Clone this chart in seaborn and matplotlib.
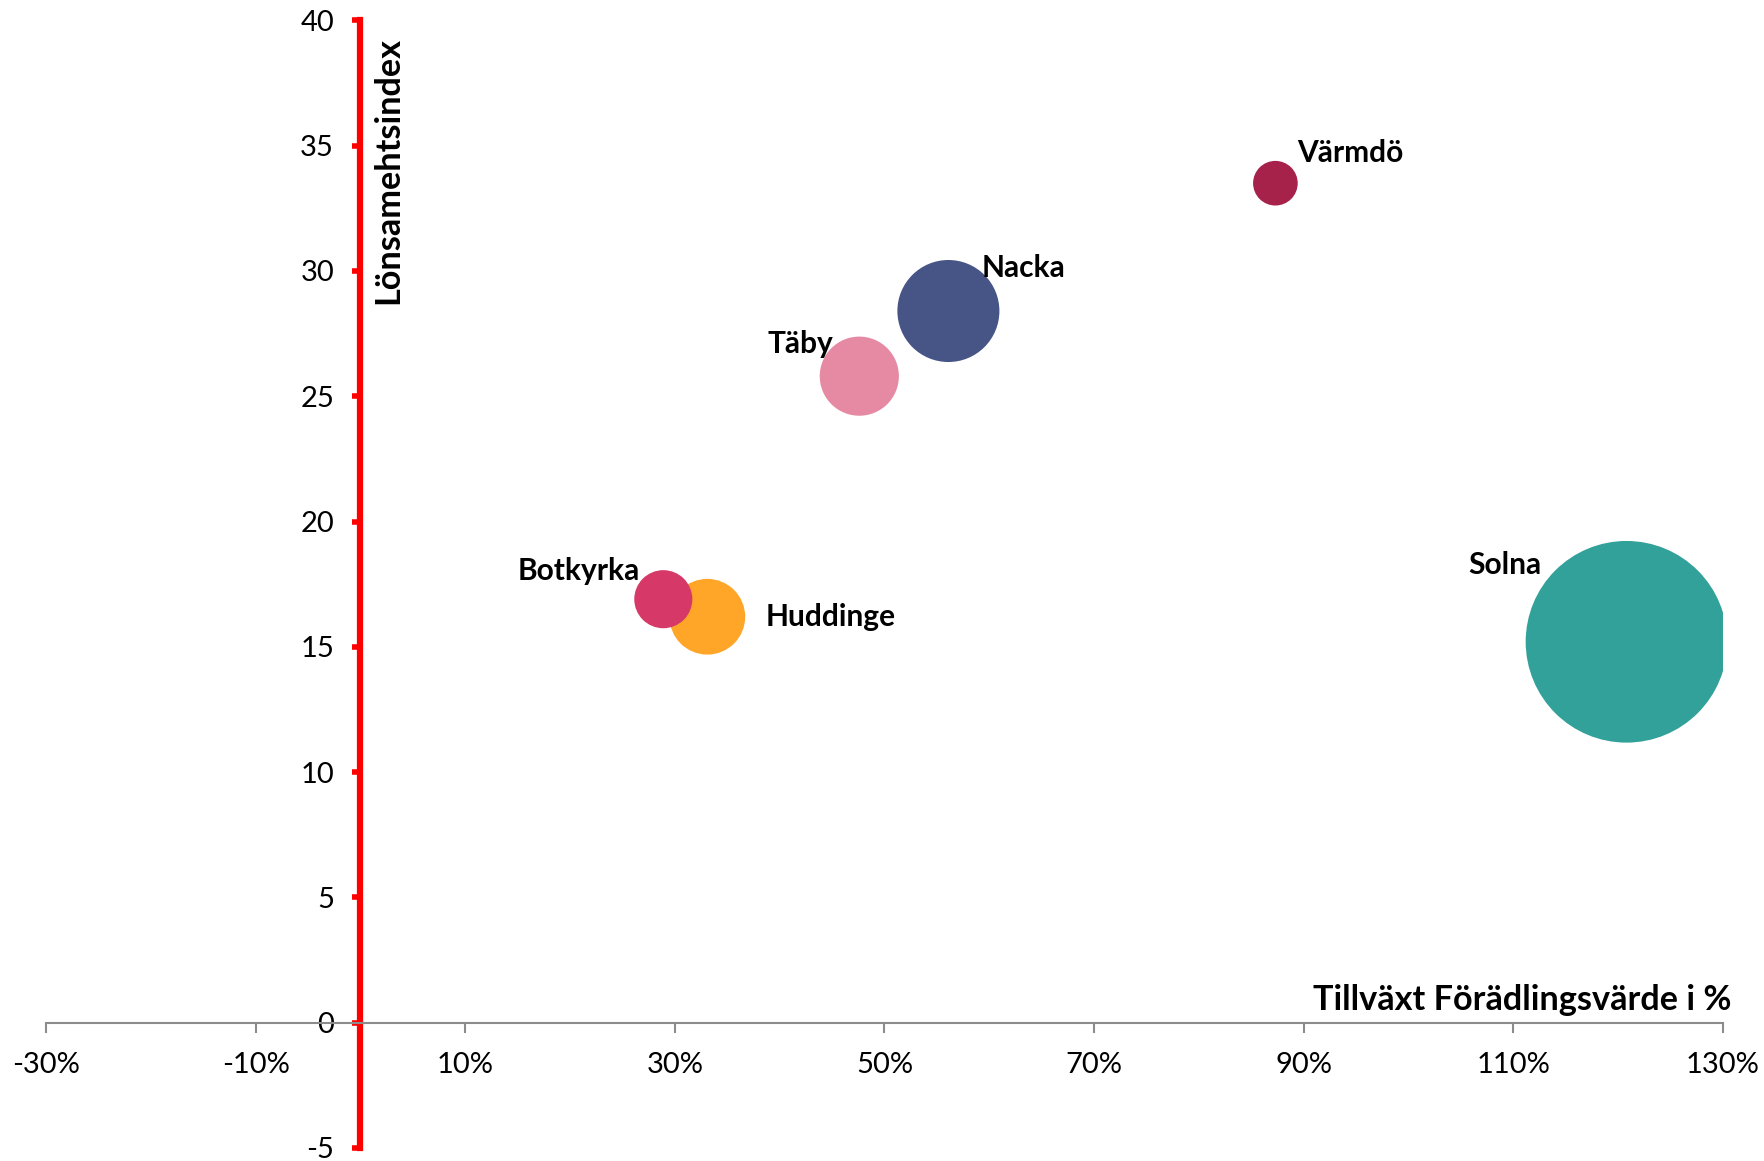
"""
Bubble chart: Tillväxt Förädlingsvärde vs Lönsamhetsindex per kommun
"""

import matplotlib
matplotlib.use("Agg")
import matplotlib.pyplot as plt
import seaborn as sns
import pandas as pd
from matplotlib.ticker import FixedLocator, FuncFormatter

# Data
kommuner = ["Solna", "Nacka", "Täby", "Huddinge", "Botkyrka", "Värmdö"]
tillvaxt = [120.8, 56.1, 47.6, 33.1, 28.9, 87.3]          # x, %
lonsamhet = [15.2, 28.4, 25.8, 16.2, 16.9, 33.5]           # y, index
storlek = [100.0, 25.6, 15.4, 14.1, 8.3, 4.9]              # relative bubble area

x_ticks = [-30, -10, 10, 30, 50, 70, 90, 110, 130]
y_ticks = [-5, 0, 5, 10, 15, 20, 25, 30, 35, 40]

# Styling
farger = {
    "Solna": "#32A19A",
    "Nacka": "#475486",
    "Täby": "#E689A2",
    "Huddinge": "#FFA629",
    "Botkyrka": "#D63868",
    "Värmdö": "#A6224A",
}
# label offsets in points from the bubble centre: (dx, dy, ha)
label_offsets = {
    "Solna": (-61, 55, "right"),
    "Nacka": (24, 31, "left"),
    "Täby": (-19, 23, "right"),
    "Huddinge": (42, 0, "left"),
    "Botkyrka": (-17, 20, "right"),
    "Värmdö": (16, 22, "left"),
}

sns.set_style("white")
plt.rcParams["font.family"] = ["Lato", "DejaVu Sans"]
plt.rcParams["text.color"] = "black"

df = pd.DataFrame({
    "kommun": kommuner,
    "tillvaxt": tillvaxt,
    "lonsamhet": lonsamhet,
    "storlek": storlek,
})

fig = plt.figure(figsize=(17.65, 11.61), dpi=100)
ax = fig.add_axes([0.02606, 0.0112, 0.9501, 0.9713])

sns.scatterplot(
    data=df, x="tillvaxt", y="lonsamhet",
    hue="kommun", palette=farger,
    size="storlek", sizes=(0, 21080), size_norm=(0, 100),
    linewidth=0, alpha=1, legend=False, ax=ax,
)

for _, row in df.iterrows():
    dx, dy, ha = label_offsets[row["kommun"]]
    ax.annotate(row["kommun"], (row["tillvaxt"], row["lonsamhet"]),
                xytext=(dx, dy), textcoords="offset points", color="black",
                ha=ha, va="center", fontsize=21.5, fontweight="bold")

ax.set_xlim(-30, 130)
ax.set_ylim(-5, 40)
ax.xaxis.set_major_locator(FixedLocator(x_ticks))
ax.yaxis.set_major_locator(FixedLocator(y_ticks))
ax.xaxis.set_major_formatter(FuncFormatter(lambda v, _: f"{v:.0f}%"))
ax.yaxis.set_major_formatter(FuncFormatter(lambda v, _: f"{v:.0f}"))

for side in ["top", "right"]:
    ax.spines[side].set_visible(False)
ax.spines["left"].set_position(("data", 0))
ax.spines["left"].set_color("red")
ax.spines["left"].set_linewidth(4.5)
ax.spines["bottom"].set_position(("data", 0))
ax.spines["bottom"].set_color("#8C8C8C")
ax.spines["bottom"].set_linewidth(1.5)

ax.tick_params(axis="y", left=True, direction="out", length=6, width=4,
               colors="red", labelcolor="black", labelsize=21, pad=13)
ax.tick_params(axis="x", bottom=True, direction="out", length=7, width=1.5,
               colors="#8C8C8C", labelcolor="black", labelsize=21, pad=14)
ax.set_xlabel("")
ax.set_ylabel("")

ax.text(1.005, 0.131, "Tillväxt Förädlingsvärde i %", transform=ax.transAxes,
        ha="right", va="center", fontsize=24.7, fontweight="bold", color="black")
ax.text(0.204, 0.985, "Lönsamehtsindex", transform=ax.transAxes,
        rotation=90, ha="center", va="top", fontsize=24.7, fontweight="bold",
        color="black")

fig.savefig("out.png", dpi=100)
